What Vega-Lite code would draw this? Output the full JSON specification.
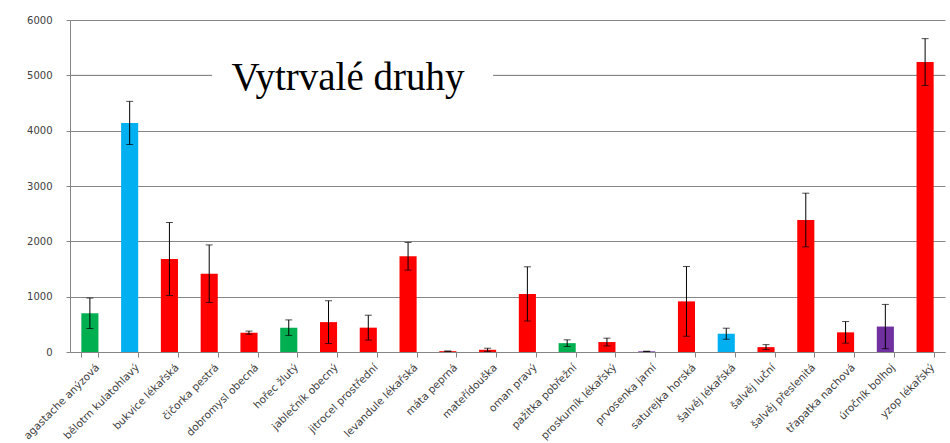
{
  "$schema": "https://vega.github.io/schema/vega-lite/v6.json",
  "width": 875,
  "height": 332,
  "autosize": {"type": "none"},
  "padding": {"left": 70, "top": 20, "right": 5, "bottom": 91},
  "background": "white",
  "config": {
    "view": {"stroke": null},
    "axis": {
      "labelFont": "DejaVu Sans",
      "labelColor": "#404040",
      "domainColor": "#868686",
      "tickColor": "#868686",
      "gridColor": "#868686",
      "gridOpacity": 1
    }
  },
  "datasets": {
    "druhy": [
      {"druh": "agastache anýzová", "hodnota": 700, "chyba": 275, "skupina": "A"},
      {"druh": "bělotrn kulatohlavý", "hodnota": 4140, "chyba": 390, "skupina": "B"},
      {"druh": "bukvice lékařská", "hodnota": 1680, "chyba": 660, "skupina": "C"},
      {"druh": "čičorka pestrá", "hodnota": 1415, "chyba": 520, "skupina": "C"},
      {"druh": "dobromysl obecná", "hodnota": 350, "chyba": 28, "skupina": "C"},
      {"druh": "hořec žlutý", "hodnota": 440, "chyba": 140, "skupina": "A"},
      {"druh": "jablečník obecný", "hodnota": 540, "chyba": 385, "skupina": "C"},
      {"druh": "jitrocel prostřední", "hodnota": 440, "chyba": 225, "skupina": "C"},
      {"druh": "levandule lékařská", "hodnota": 1730, "chyba": 250, "skupina": "C"},
      {"druh": "máta peprná", "hodnota": 15, "chyba": 3, "skupina": "C"},
      {"druh": "mateřídouška", "hodnota": 40, "chyba": 28, "skupina": "C"},
      {"druh": "oman pravý", "hodnota": 1050, "chyba": 490, "skupina": "C"},
      {"druh": "pažitka pobřežní", "hodnota": 160, "chyba": 60, "skupina": "A"},
      {"druh": "proskurník lékařský", "hodnota": 180, "chyba": 70, "skupina": "C"},
      {"druh": "prvosenka jarní", "hodnota": 12, "chyba": 3, "skupina": "D"},
      {"druh": "saturejka horská", "hodnota": 915, "chyba": 630, "skupina": "C"},
      {"druh": "šalvěj lékařská", "hodnota": 330, "chyba": 100, "skupina": "B"},
      {"druh": "šalvěj luční", "hodnota": 88, "chyba": 45, "skupina": "C"},
      {"druh": "šalvěj přeslenitá", "hodnota": 2385, "chyba": 485, "skupina": "C"},
      {"druh": "třapatka nachová", "hodnota": 355, "chyba": 195, "skupina": "C"},
      {"druh": "úročník bolhoj", "hodnota": 460, "chyba": 400, "skupina": "D"},
      {"druh": "yzop lékařský", "hodnota": 5240, "chyba": 423, "skupina": "C"}
    ]
  },
  "layer": [
    {
      "data": {"values": [{}]},
      "mark": {"type": "rule", "color": "#868686", "strokeWidth": 1},
      "encoding": {
        "y": {"datum": 5000, "type": "quantitative"}
      }
    },
    {
      "data": {"name": "druhy"},
      "mark": {"type": "bar"},
      "encoding": {
        "x": {
          "field": "druh",
          "type": "nominal",
          "sort": null,
          "scale": {"paddingInner": 0.57, "paddingOuter": 0.285},
          "axis": {
            "title": null,
            "labelAngle": -45,
            "labelFontSize": 10.5,
            "labelPadding": 5,
            "labelOffset": 4,
            "tickBand": "extent",
            "tickSize": 5,
            "grid": false
          }
        },
        "y": {
          "field": "hodnota",
          "type": "quantitative",
          "scale": {"domain": [0, 6000], "nice": false},
          "axis": {
            "title": null,
            "format": "d",
            "values": [0, 1000, 2000, 3000, 4000, 5000, 6000],
            "labelFontSize": 10,
            "tickSize": 4,
            "labelPadding": 14,
            "grid": true
          }
        },
        "color": {
          "field": "skupina",
          "type": "nominal",
          "scale": {"domain": ["A", "B", "C", "D"], "range": ["#00B050", "#00B0F0", "#FF0000", "#7030A0"]},
          "legend": null
        }
      }
    },
    {
      "data": {"name": "druhy"},
      "mark": {"type": "errorbar", "ticks": {"size": 7, "color": "black"}, "rule": {"color": "black", "strokeWidth": 1}},
      "encoding": {
        "x": {"field": "druh", "type": "nominal", "sort": null},
        "y": {"field": "hodnota", "type": "quantitative"},
        "yError": {"field": "chyba"}
      }
    },
    {
      "data": {"values": [{}]},
      "mark": {"type": "rect", "color": "white"},
      "encoding": {
        "x": {"datum": "čičorka pestrá", "type": "nominal", "bandPosition": 0.67},
        "x2": {"datum": "mateřídouška", "bandPosition": 0.82},
        "y": {"datum": 4880, "type": "quantitative"},
        "y2": {"datum": 5120}
      }
    },
    {
      "data": {"values": [{"nadpis": "Vytrvalé druhy"}]},
      "mark": {"type": "text", "font": "Liberation Serif", "fontSize": 39, "color": "black", "align": "center", "baseline": "alphabetic"},
      "encoding": {
        "x": {"datum": "jablečník obecný", "type": "nominal", "bandPosition": 1.64},
        "y": {"datum": 4740, "type": "quantitative"},
        "text": {"field": "nadpis"}
      }
    }
  ]
}
